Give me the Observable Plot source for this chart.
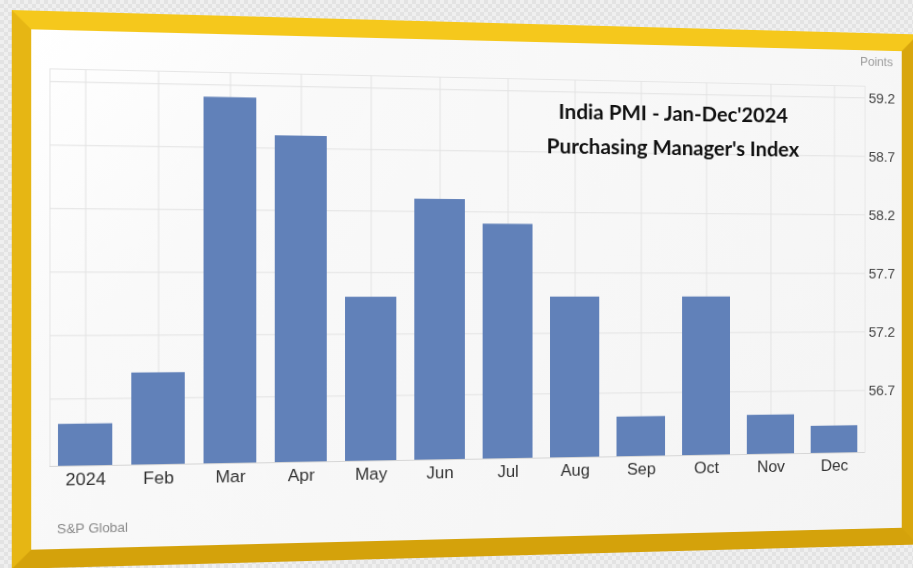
<!DOCTYPE html>
<html>
<head>
<meta charset="utf-8">
<script src="https://cdn.jsdelivr.net/npm/d3@7"></script>
<script src="https://cdn.jsdelivr.net/npm/@observablehq/plot@0.6"></script>
<style>
  html, body { margin: 0; padding: 0; }
  body {
    width: 913px; height: 568px; overflow: hidden; position: relative;
    background-color: #ebebeb;
    background-image: repeating-conic-gradient(#e3e3e3 0% 25%, #efefef 0% 50%);
    background-size: 8px 8px;
    font-family: "Liberation Sans", Arial, sans-serif;
  }
  #stage {
    position: absolute; left: 0; top: 0; width: 960px; height: 578px;
    transform-origin: 456px 289px;
    transform: perspective(1500px) rotateY(8.6deg);
  }
  #frame {
    position: absolute; left: 26px; top: 22px; width: 884px; height: 499px;
    border-style: solid; border-width: 18px;
    border-top-color: #f5c81c; border-left-color: #e6b614;
    border-bottom-color: #d4a20b; border-right-color: #d8a60d;
    background: linear-gradient(135deg, #ffffff 0%, #f9f9f9 25%, #f4f4f4 100%);
  }
  #chart { position: absolute; left: 44px; top: 40px; width: 884px; height: 499px; }
  #chart svg { max-width: none !important; }
  .title {
    position: absolute; left: 532px; width: 300px; text-align: center;
    font-family: Lato, "Open Sans", sans-serif; font-weight: bold; font-size: 21.5px; color: #111;
    line-height: 26px;
  }
  #points { position: absolute; left: 882px; top: 44px; font-size: 13px; color: #9a9a9a; }
  #source { position: absolute; left: 68px; top: 512px; font-size: 13px; color: #8a8a8a; }
</style>
</head>
<body>
<div id="stage">
  <div id="frame"></div>
  <div id="chart"></div>
  <div class="title" style="top:96px">India PMI - Jan-Dec'2024</div>
  <div class="title" style="top:131px">Purchasing Manager's Index</div>
  <div id="points">Points</div>
  <div id="source">S&amp;P Global</div>
</div>
<script>
const months = ["2024","Feb","Mar","Apr","May","Jun","Jul","Aug","Sep","Oct","Nov","Dec"];
const pmi = [56.5, 56.9, 59.1, 58.8, 57.5, 58.3, 58.1, 57.5, 56.5, 57.5, 56.5, 56.4];
const yTicks = [56.7, 57.2, 57.7, 58.2, 58.7, 59.2];
const yDomain = [56.17, 59.3];

const data = months.map((m, i) => ({month: m, value: pmi[i]}));

const chart = Plot.plot({
  width: 884,
  height: 499,
  marginLeft: 17,
  marginRight: 41,
  marginTop: 37,
  marginBottom: 80,
  style: {background: "transparent", fontFamily: "'Liberation Sans', Arial, sans-serif"},
  x: {domain: months, paddingInner: 0.26, paddingOuter: 0.11, label: null},
  y: {domain: yDomain, label: null},
  marks: [
    Plot.frame({stroke: "#e6e6e6"}),
    Plot.gridX(months, {stroke: "#e3e3e3", strokeOpacity: 1}),
    Plot.gridY(yTicks, {stroke: "#e3e3e3", strokeOpacity: 1}),
    Plot.barY(data, {x: "month", y1: yDomain[0], y2: "value", fill: "#6181b9"}),
    Plot.ruleY([yDomain[0]], {stroke: "#d6d6d6"}),
    Plot.axisX({tickSize: 0, tickPadding: 6, fontSize: 17, fill: "#333"}),
    Plot.axisY(yTicks, {anchor: "right", tickSize: 0, tickPadding: 4, fontSize: 15, fill: "#444", tickFormat: d => d.toFixed(1)})
  ]
});
document.getElementById("chart").appendChild(chart);
</script>
</body>
</html>
